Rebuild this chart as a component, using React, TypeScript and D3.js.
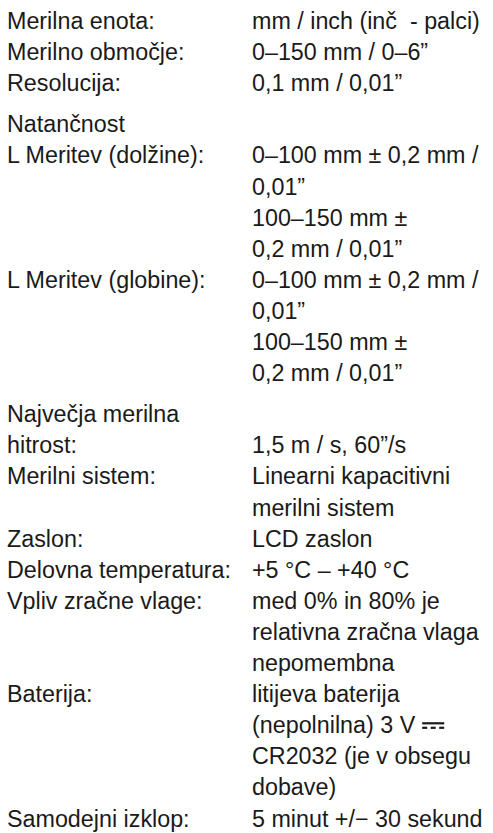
import React, { useEffect, useRef } from 'react';
import * as d3 from 'd3';

const width = 493;
const height = 833;
const labelX = 7;
const valueX = 252;
const firstBaseline = 29;
const lineStep = 31.1;
const groupGap = 10;
const fontSize = 23.3;
const ink = '#1a1a1a';

// left column, one entry per row (array = wrapped lines)
const labels = [
  ['Merilna enota:'],
  ['Merilno območje:'],
  ['Resolucija:'],
  ['Natančnost'],
  ['L Meritev (dolžine):'],
  ['L Meritev (globine):'],
  ['Največja merilna', 'hitrost:'],
  ['Merilni sistem:'],
  ['Zaslon:'],
  ['Delovna temperatura:'],
  ['Vpliv zračne vlage:'],
  ['Baterija:'],
  ['Samodejni izklop:'],
];

// right column, same rows ('' keeps a line empty)
const values = [
  ['mm / inch (inč\u00a0 - palci)'],
  ['0–150 mm / 0–6”'],
  ['0,1 mm / 0,01”'],
  [],
  ['0–100 mm ± 0,2 mm /', '0,01”', '100–150 mm ±', '0,2 mm / 0,01”'],
  ['0–100 mm ± 0,2 mm /', '0,01”', '100–150 mm ±', '0,2 mm / 0,01”'],
  ['', '1,5 m / s, 60”/s'],
  ['Linearni kapacitivni', 'merilni sistem'],
  ['LCD zaslon'],
  ['+5 °C – +40 °C'],
  ['med 0% in 80% je', 'relativna zračna vlaga', 'nepomembna'],
  ['litijeva baterija', '(nepolnilna) 3 V', 'CR2032 (je v obsegu', 'dobave)'],
  ['5 minut +/− 30 sekund'],
];

// rows that start a new block (extra space above)
const groupStarts = [3, 6];

// row + line holding the DC symbol after its text
const dcMark = { row: 11, line: 1 };

export default function App() {
  const ref = useRef<SVGSVGElement>(null);

  useEffect(() => {
    const svg = d3.select(ref.current);
    svg.selectAll('*').remove();

    // line index -> baseline
    const y = d3.scaleLinear().domain([0, 1]).range([firstBaseline, firstBaseline + lineStep]);

    let line = 0;
    let gaps = 0;
    const rows = labels.map((lab, i) => {
      if (groupStarts.includes(i)) gaps += 1;
      const n = Math.max(lab.length, values[i].length);
      const r = { i, start: line, gaps };
      line += n;
      return r;
    });

    const g = svg.append('g')
      .attr('font-family', '"Liberation Sans", Arial, Helvetica, sans-serif')
      .attr('font-size', fontSize)
      .attr('fill', ink);

    rows.forEach(r => {
      const off = r.gaps * groupGap;
      labels[r.i].forEach((t, k) => {
        g.append('text').attr('x', labelX).attr('y', y(r.start + k) + off).text(t);
      });
      values[r.i].forEach((t, k) => {
        if (!t) return;
        const txt = g.append('text')
          .attr('x', valueX)
          .attr('y', y(r.start + k) + off)
          .style('white-space', 'pre')
          .text(t);
        if (r.i === dcMark.row && k === dcMark.line) {
          const node = txt.node() as SVGTextElement;
          const x0 = valueX + node.getComputedTextLength() + 7;
          const yb = y(r.start + k) + off;
          const w = 22;
          g.append('rect').attr('x', x0).attr('y', yb - 11).attr('width', w).attr('height', 2.2).attr('fill', ink);
          [0, 1, 2].forEach(j => {
            g.append('rect').attr('x', x0 + j * 8.5).attr('y', yb - 6.5).attr('width', 5).attr('height', 2.2).attr('fill', ink);
          });
        }
      });
    });
  }, []);

  return (
    <div style={{ position: 'absolute', left: 0, top: 0, background: '#fff' }}>
      <svg ref={ref} width={width} height={height} />
    </div>
  );
}
